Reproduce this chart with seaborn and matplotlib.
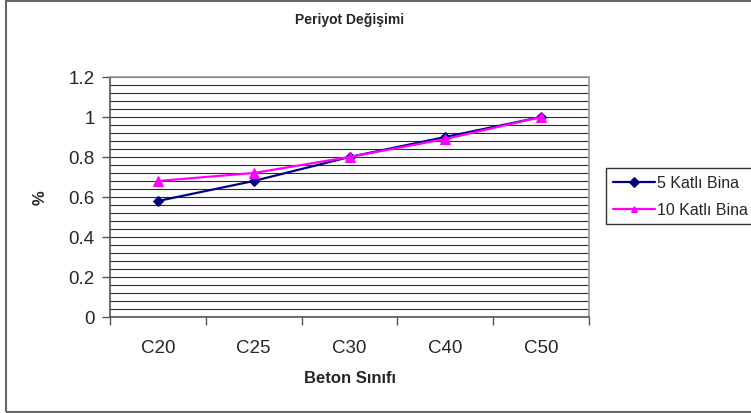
import matplotlib
matplotlib.use("Agg")
import matplotlib.pyplot as plt
import seaborn as sns
import pandas as pd
import numpy as np
from matplotlib.patches import Rectangle

categories = ["C20", "C25", "C30", "C40", "C50"]
kat5 = [0.58, 0.68, 0.80, 0.90, 1.00]
kat10 = [0.68, 0.72, 0.80, 0.89, 1.00]
series_names = ["5 Katlı Bina", "10 Katlı Bina"]
y_ticks = [0, 0.2, 0.4, 0.6, 0.8, 1, 1.2]
y_tick_labels = ["0", "0.2", "0.4", "0.6", "0.8", "1", "1.2"]

df = pd.DataFrame({
    "x": list(range(len(categories))) * 2,
    "y": kat5 + kat10,
    "seri": [series_names[0]] * len(kat5) + [series_names[1]] * len(kat10),
})

sns.set_style("white")
plt.rcParams["font.family"] = ["Liberation Sans", "DejaVu Sans"]

fig = plt.figure(figsize=(7.51, 4.14), dpi=100)
ax = fig.add_axes([110 / 751, 1 - 318 / 414, (589 - 110) / 751, (318 - 78) / 414])

sns.lineplot(data=df, x="x", y="y", hue="seri", style="seri",
             palette={series_names[0]: "#000080", series_names[1]: "#FF00FF"},
             markers={series_names[0]: "D", series_names[1]: "^"},
             dashes=False, markersize=7, linewidth=1.6, ax=ax, legend=True)
for ln in ax.lines:
    ln.set_markeredgecolor(ln.get_color())
ax.lines[0].set_markersize(5.5)

ax.set_xlim(-0.5, len(categories) - 0.5)
ax.set_ylim(0, 1.2)
ax.set_yticks(y_ticks)
ax.set_yticklabels(y_tick_labels, fontsize=13.5)
ax.set_yticks(np.arange(0, 1.2001, 0.04), minor=True)
ax.set_xticks(np.arange(-0.5, len(categories), 1.0))
ax.set_xticklabels([""] * (len(categories) + 1))
ax.set_xticks(range(len(categories)), minor=True)
ax.set_xticklabels(categories, minor=True, fontsize=13.5)
ax.tick_params(axis="x", which="minor", length=0, pad=16)
ax.tick_params(axis="x", which="major", length=6, width=1, color="#555555", direction="out", bottom=True)
ax.tick_params(axis="y", which="major", length=6, width=1, color="#555555", direction="out", left=True, pad=5)
ax.tick_params(axis="y", which="minor", length=0)

ax.grid(True, axis="y", which="both", color="#2a2a2a", linewidth=0.8)
ax.grid(False, axis="x", which="both")
ax.set_axisbelow(True)
for s in ax.spines.values():
    s.set_color("#9a9a9a")
    s.set_linewidth(1.2)
ax.spines["left"].set_color("#555555")
ax.spines["bottom"].set_color("#555555")

ax.set_xlabel("Beton Sınıfı", fontsize=12, fontweight="bold", labelpad=10)
ax.set_ylabel("%", fontsize=12, fontweight="bold")
ax.yaxis.set_label_coords((48 - 110) / 479, 0.5)
fig.text(350 / 751, 1 - 20 / 414, "Periyot Değişimi", fontsize=10, fontweight="bold",
         ha="center", va="center")

leg = ax.legend(loc="upper left", bbox_to_anchor=(606 / 751, 1 - 169 / 414),
                bbox_transform=fig.transFigure, frameon=True, fontsize=11.5,
                handlelength=2.6, handletextpad=0.15, borderaxespad=0,
                borderpad=0.45, labelspacing=0.75, fancybox=False, markerscale=0.7)
leg.get_frame().set_edgecolor("#000000")
leg.get_frame().set_linewidth(1.0)

fig.patches.append(Rectangle((6 / 751, 1 / 414), 750 / 751, 411 / 414, transform=fig.transFigure,
                             fill=False, edgecolor="#666666", linewidth=1.5))

fig.savefig("out.png", dpi=100)
